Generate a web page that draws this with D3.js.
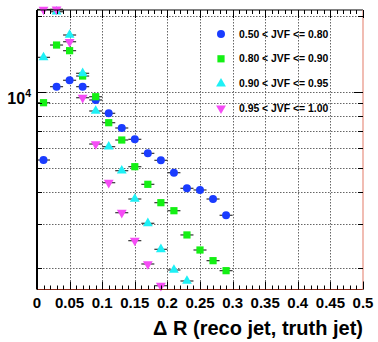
<!DOCTYPE html>
<html><head><meta charset="utf-8">
<script src="https://cdn.jsdelivr.net/npm/d3@7"></script>
<style>body{margin:0;background:#fff}svg{display:block}</style>
</head><body>
<script>
// ---- data ----
const binCenters = [0.01,0.03,0.05,0.07,0.09,0.11,0.13,0.15,0.17,0.19,0.21,0.23,0.25,0.27,0.29];
const binHalfWidth = 0.01;
const jvf050_080 = [5370,10490,11120,10490,9290,8226,7194,6487,5708,5356,4783,4148,4085,3762,3243];
const jvf080_090 = [9060,15340,14570,11560,9570,7550,6446,5053,4302,3638,3381,2710,2362,2143,1956];
const jvf090_095 = [13710,20790,16810,11850,8400,6066,4872,3762,3014,2377,1968,1780];
const jvf095_100 = [21220,21260,15810,9484,6214,4366,3320,2572,2079,1705];
const seriesNames = ["0.50 < JVF <= 0.80","0.80 < JVF <= 0.90","0.90 < JVF <= 0.95","0.95 < JVF <= 1.00"];
const xTickValues = [0,0.05,0.1,0.15,0.2,0.25,0.3,0.35,0.4,0.45,0.5];
const xTickLabels = ["0","0.05","0.1","0.15","0.2","0.25","0.3","0.35","0.4","0.45","0.5"];
const xMinorStep = 0.01;
const yTickValues = [2000,3000,4000,5000,6000,7000,8000,9000,10000,20000];
const yDomain = [1647, 21120];
const xTitle = "\u0394 R (reco jet, truth jet)";

// ---- layout ----
const W = 378, H = 342;
const L = 37, R = 363, T = 10, B = 289.5;
const svg = d3.select("body").append("svg").attr("width", W).attr("height", H);
const x = d3.scaleLinear().domain([0, 0.5]).range([L, R]);
const y = d3.scaleLog().domain(yDomain).range([B, T]);

// grid
const grid = svg.append("g").attr("stroke", "#666").attr("stroke-width", 1).attr("stroke-dasharray", "1.5,1.5");
xTickValues.slice(1, -1).forEach(v => {
  grid.append("line").attr("x1", Math.round(x(v)) + 0.5).attr("x2", Math.round(x(v)) + 0.5).attr("y1", T).attr("y2", B);
});
yTickValues.forEach(v => {
  grid.append("line").attr("x1", L).attr("x2", R).attr("y1", Math.round(y(v)) + 0.5).attr("y2", Math.round(y(v)) + 0.5);
});

// series
const styles = [
  {data: jvf050_080, color: "#1a3cff", sym: d3.symbolCircle, size: 50, rot: 0},
  {data: jvf080_090, color: "#14f014", sym: d3.symbolSquare, size: 52, rot: 0},
  {data: jvf090_095, color: "#1ef0f5", sym: d3.symbolTriangle, size: 42, rot: 0},
  {data: jvf095_100, color: "#f54cf5", sym: d3.symbolTriangle, size: 42, rot: 180}
];
const plot = svg.append("g");
styles.forEach(s => {
  const pts = s.data.map((v, i) => ({x: binCenters[i], v}));
  plot.append("g").selectAll("line").data(pts).join("line")
    .attr("x1", d => x(d.x - binHalfWidth)).attr("x2", d => x(d.x + binHalfWidth))
    .attr("y1", d => y(d.v)).attr("y2", d => y(d.v))
    .attr("stroke", "#333").attr("stroke-width", 1.2);
});
styles.forEach(s => {
  const pts = s.data.map((v, i) => ({x: binCenters[i], v}));
  plot.append("g").selectAll("path").data(pts).join("path")
    .attr("d", d3.symbol().type(s.sym).size(s.size))
    .attr("transform", d => `translate(${x(d.x)},${y(d.v)}) rotate(${s.rot})`)
    .attr("fill", s.color);
});

// frame
svg.append("line").attr("x1", L).attr("x2", R).attr("y1", T).attr("y2", T).attr("stroke", "#000").attr("stroke-width", 1);
svg.append("line").attr("x1", L).attr("x2", R).attr("y1", B).attr("y2", B).attr("stroke", "#8a2a1a").attr("stroke-width", 1.2);
svg.append("line").attr("x1", R).attr("x2", R).attr("y1", T).attr("y2", B).attr("stroke", "#e89080").attr("stroke-width", 1.2);
svg.append("line").attr("x1", L).attr("x2", L).attr("y1", T).attr("y2", B).attr("stroke", "#000").attr("stroke-width", 2);

// x ticks (bottom + top)
const ticks = svg.append("g").attr("stroke", "#000").attr("stroke-width", 1);
d3.range(0, 0.5001, xMinorStep).forEach(v => {
  const major = xTickValues.some(t => Math.abs(t - v) < 1e-6);
  const len = major ? 8 : 4;
  const px = Math.round(x(v)) + 0.5;
  ticks.append("line").attr("x1", px).attr("x2", px).attr("y1", B).attr("y2", B - len);
  ticks.append("line").attr("x1", px).attr("x2", px).attr("y1", T).attr("y2", T + len);
});
// y ticks (left + right)
yTickValues.forEach(v => {
  const major = v === 10000;
  const len = major ? 9 : 5;
  const py = Math.round(y(v)) + 0.5;
  ticks.append("line").attr("x1", L).attr("x2", L + len).attr("y1", py).attr("y2", py);
  ticks.append("line").attr("x1", R).attr("x2", R - len).attr("y1", py).attr("y2", py);
});

// x tick labels
const font = "'Liberation Sans', Arial, Helvetica, sans-serif";
svg.append("g").selectAll("text").data(xTickValues).join("text")
  .attr("x", d => x(d)).attr("y", B + 18)
  .attr("text-anchor", "middle")
  .attr("font-family", font).attr("font-weight", "bold").attr("font-size", 15)
  .text((d, i) => xTickLabels[i]);

// y label 10^4
const yl = svg.append("text").attr("x", 31).attr("y", y(10000) + 12)
  .attr("text-anchor", "end").attr("font-family", font).attr("font-weight", "bold").attr("font-size", 16);
yl.append("tspan").text("10");
yl.append("tspan").attr("font-size", 10.5).attr("dy", -7).text("4");

// x title
svg.append("text").attr("x", R).attr("y", 335).attr("text-anchor", "end")
  .attr("font-family", font).attr("font-weight", "bold").attr("font-size", 20)
  .text(xTitle);

// legend
const leg = svg.append("g");
styles.forEach((s, i) => {
  const ly = 34 + i * 24.8;
  leg.append("path").attr("d", d3.symbol().type(s.sym).size(s.size))
    .attr("transform", `translate(221,${ly}) rotate(${s.rot})`).attr("fill", s.color);
  leg.append("text").attr("x", 239).attr("y", ly + 3.6)
    .attr("font-family", font).attr("font-weight", "bold").attr("font-size", 10.4)
    .text(seriesNames[i]);
});
</script>
</body></html>
